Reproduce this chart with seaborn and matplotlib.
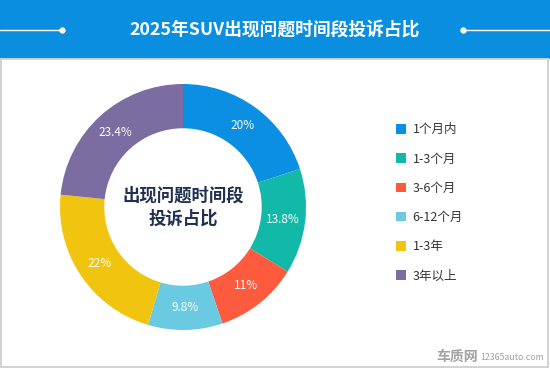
import matplotlib
matplotlib.use("Agg")
import numpy as np
import matplotlib.pyplot as plt
import seaborn as sns
from matplotlib.patches import Rectangle, Patch
from matplotlib.lines import Line2D

# Dati
categorie = ["1个月内", "1-3个月", "3-6个月", "6-12个月", "1-3年", "3年以上"]
quote = [20, 13.8, 11, 9.8, 22, 23.4]
etichette = ["20%", "13.8%", "11%", "9.8%", "22%", "23.4%"]
colori = ["#0a8fe2", "#12b9a8", "#fd5a3e", "#6acae2", "#f1c40f", "#7b6da2"]

titolo = "2025年SUV出现问题时间段投诉占比"
testo_centro = "出现问题时间段\n投诉占比"

sns.set_theme(style="white")
plt.rcParams["font.family"] = ["Noto Sans CJK SC", "DejaVu Sans"]

W, H = 550, 368
fig = plt.figure(figsize=(W / 100, H / 100), dpi=100)
fig.patch.set_facecolor("white")

# Banner superiore
banner_h = 59
fig.patches.append(Rectangle((0, 1 - banner_h / H), 1, banner_h / H,
                             transform=fig.transFigure, facecolor="#0a8fe0",
                             edgecolor="none", zorder=0))
# Bordo grigio del pannello
fig.patches.append(Rectangle((0.8 / W, 1.5 / H), (W - 2.6) / W, (H - banner_h - 1.5) / H,
                             transform=fig.transFigure, facecolor="none",
                             edgecolor="#d2d2d2", lw=1.4, zorder=0))

yt = 1 - 30 / H
fig.text(0.5, yt, titolo, color="white", fontsize=12.8, fontweight="bold",
         ha="center", va="center")
fig.add_artist(Line2D([0, 62 / W], [yt, yt], transform=fig.transFigure, color="white", lw=1))
fig.add_artist(Line2D([62 / W], [yt], transform=fig.transFigure, color="white",
                      marker="o", markersize=3.5))
fig.add_artist(Line2D([463 / W, 1], [yt, yt], transform=fig.transFigure, color="white", lw=1))
fig.add_artist(Line2D([463 / W], [yt], transform=fig.transFigure, color="white",
                      marker="o", markersize=3.5))

# Ciambella
cx, cy, r = 183, 207, 123
ax = fig.add_axes([(cx - r) / W, (H - cy - r) / H, 2 * r / W, 2 * r / H])
wedges, _ = ax.pie(quote, colors=colori, startangle=90, counterclock=False,
                   radius=1, wedgeprops=dict(width=0.36, edgecolor="none"))
ax.set_xlim(-1, 1)
ax.set_ylim(-1, 1)
ax.axis("off")

for w, lab in zip(wedges, etichette):
    ang = np.deg2rad((w.theta1 + w.theta2) / 2)
    ax.text(0.82 * np.cos(ang), 0.82 * np.sin(ang), lab, color="white",
            fontsize=8.5, ha="center", va="center")

ax.text(0, 0, testo_centro, color="#1f3050", fontsize=12.5, fontweight="bold",
        ha="center", va="center", linespacing=1.4)

# Legenda
handles = [Patch(facecolor=c, edgecolor="none") for c in colori]
fig.legend(handles, categorie, loc="upper left",
           bbox_to_anchor=(385 / W, 1 - 112 / H), frameon=False,
           fontsize=9, labelcolor="#333333", handlelength=0.8, handleheight=0.8,
           handletextpad=0.5, labelspacing=1.3)

# Watermark
fig.text(478 / W, 1 - 357 / H, "车质网", color="#8a8a8a", fontsize=10,
         fontweight="bold", ha="right", va="center", alpha=0.8)
fig.text(480 / W, 1 - 358 / H, "12365auto.com", color="#8a8a8a", fontsize=6.3,
         ha="left", va="center", alpha=0.8)

fig.savefig("out.png", dpi=100)
